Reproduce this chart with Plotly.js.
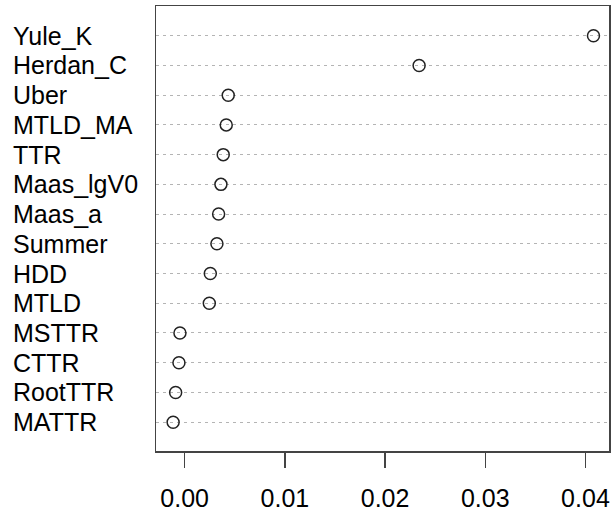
<!DOCTYPE html>
<html>
<head>
<meta charset="utf-8">
<script src="https://cdn.plot.ly/plotly-3.0.1.min.js"></script>
<style>
html,body{margin:0;padding:0;background:#fff;}
#chart{width:611px;height:518px;}
</style>
</head>
<body>
<div id="chart"></div>
<script>
// Categories listed top to bottom
const categories = ["Yule_K","Herdan_C","Uber","MTLD_MA","TTR","Maas_lgV0","Maas_a","Summer","HDD","MTLD","MSTTR","CTTR","RootTTR","MATTR"];
const values = [0.0408, 0.0234, 0.00435, 0.00415, 0.00385, 0.00362, 0.00339, 0.00322, 0.00256, 0.00246, -0.00047, -0.00057, -0.0009, -0.00115];
const xTickVals = [0, 0.01, 0.02, 0.03, 0.04];
const xTickText = ["0.00","0.01","0.02","0.03","0.04"];

const n = categories.length;
const ypos = categories.map((c, i) => n - i);

const trace = {
  type: 'scatter',
  mode: 'markers',
  x: values,
  y: ypos,
  marker: {symbol: 'circle-open', size: 12, color: '#222', line: {width: 1.5, color: '#222'}},
  hoverinfo: 'x+text',
  text: categories,
  showlegend: false
};

const annotations = categories.map((c, i) => ({
  xref: 'paper', yref: 'y',
  x: -0.3205, y: ypos[i],
  xanchor: 'left', yanchor: 'middle',
  text: c, showarrow: false,
  font: {family: 'Liberation Sans, Arial, sans-serif', size: 25, color: '#000'}
}));

const layout = {
  width: 611, height: 518,
  margin: {l: 156, r: 2, t: 6, b: 67},
  paper_bgcolor: '#fff', plot_bgcolor: '#fff',
  font: {family: 'Liberation Sans, Arial, sans-serif', color: '#000'},
  xaxis: {
    range: [-0.00286, 0.04235],
    tickvals: xTickVals, ticktext: xTickText,
    ticks: 'outside', ticklen: 15, tickwidth: 1.5, tickcolor: '#444',
    tickfont: {size: 25, color: '#000'},
    ticklabelstandoff: 9,
    showgrid: false, zeroline: false,
    showline: true, mirror: true, linecolor: '#444', linewidth: 1.5
  },
  yaxis: {
    range: [0.03, 15],
    tickvals: ypos, showticklabels: false, ticks: '',
    showgrid: true, gridcolor: '#b4b4b4', griddash: '3px,4px', gridwidth: 1,
    zeroline: false,
    showline: true, mirror: true, linecolor: '#444', linewidth: 1.5
  },
  annotations: annotations
};

Plotly.newPlot('chart', [trace], layout, {displayModeBar: false, staticPlot: true});
</script>
</body>
</html>
